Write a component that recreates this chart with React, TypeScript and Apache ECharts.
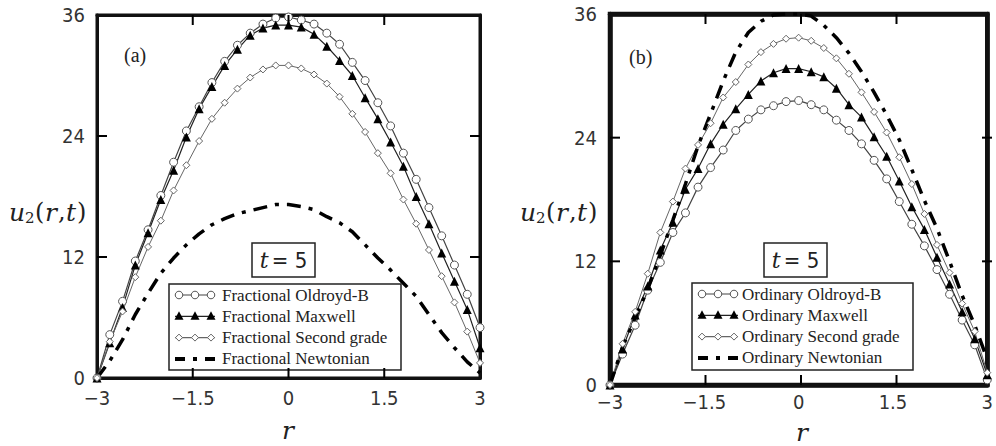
import React, { useEffect, useRef } from "react";
import * as echarts from "echarts";

// radial coordinate r
const rValues = [-3, -2.8, -2.6, -2.4, -2.2, -2.0, -1.8, -1.6, -1.4, -1.2, -1.0, -0.8, -0.6, -0.4, -0.2, 0, 0.2, 0.4, 0.6, 0.8, 1.0, 1.2, 1.4, 1.6, 1.8, 2.0, 2.2, 2.4, 2.6, 2.8, 3.0];

// Panel (a) — fractional models
const fracOldroyd = [0, 4.3, 7.6, 11.6, 14.7, 18.1, 21.4, 24.5, 26.9, 29.3, 31.4, 33.0, 34.2, 35.1, 35.7, 35.8, 35.5, 35.1, 34.2, 33.1, 31.3, 29.5, 27.3, 25.0, 22.3, 19.7, 16.9, 14.1, 11.2, 8.3, 5.0];
const fracMaxwell = [0, 3.5, 7.0, 11.2, 14.4, 17.7, 20.6, 23.9, 26.7, 28.9, 31.0, 32.6, 34.0, 34.7, 35.0, 35.0, 34.8, 34.1, 32.9, 31.5, 30.0, 27.8, 25.7, 23.4, 21.0, 18.0, 15.3, 12.4, 9.6, 6.8, 3.0];
const fracSecond = [0, 3.6, 6.6, 10.0, 13.0, 15.6, 18.6, 21.1, 23.5, 25.7, 27.3, 28.7, 29.8, 30.6, 31.0, 31.0, 30.7, 30.1, 29.2, 27.9, 26.2, 24.4, 22.3, 20.3, 17.7, 15.3, 12.7, 10.1, 7.5, 4.6, 1.5];
const fracNewtonian = [0, 1.7, 3.8, 6.3, 8.4, 10.4, 11.9, 13.2, 14.3, 15.2, 15.8, 16.3, 16.6, 16.9, 17.2, 17.2, 17.0, 16.7, 16.0, 15.4, 14.5, 13.2, 11.9, 10.7, 9.4, 8.1, 6.3, 4.5, 3.0, 1.6, 0.5];

// Panel (b) — ordinary models
const ordOldroyd = [0, 3.0, 5.8, 9.2, 11.9, 14.8, 16.7, 19.2, 21.1, 22.8, 24.7, 25.8, 26.7, 27.1, 27.5, 27.6, 27.2, 26.7, 25.7, 24.7, 23.4, 21.8, 20.0, 17.8, 15.6, 13.5, 11.2, 8.8, 6.3, 3.9, 0.5];
const ordMaxwell = [0, 3.5, 6.8, 9.6, 13.1, 15.8, 19.0, 21.0, 23.4, 25.3, 26.8, 28.2, 29.5, 30.3, 30.7, 30.7, 30.4, 29.9, 28.8, 27.2, 26.0, 24.1, 22.2, 19.8, 17.3, 15.1, 12.4, 9.8, 7.1, 4.5, 1.0];
const ordSecond = [0, 4.0, 7.1, 10.8, 14.8, 17.8, 21.0, 23.3, 25.4, 27.9, 29.4, 31.1, 32.3, 33.1, 33.6, 33.7, 33.4, 32.7, 31.7, 30.2, 28.4, 26.5, 24.5, 22.1, 19.5, 16.6, 13.6, 10.9, 7.9, 5.2, 1.2];
const ordNewtonian = [0, 3.7, 6.5, 9.3, 12.6, 16.0, 19.5, 23.2, 26.3, 29.5, 32.3, 34.2, 35.3, 35.9, 36.0, 36.0, 35.8, 34.9, 33.7, 32.2, 30.4, 28.4, 26.2, 23.8, 20.9, 17.9, 15.2, 12.0, 8.7, 5.8, 2.5];

const fracLabels = ["Fractional Oldroyd-B", "Fractional Maxwell", "Fractional Second grade", "Fractional Newtonian"];
const ordLabels = ["Ordinary Oldroyd-B", "Ordinary Maxwell", "Ordinary Second grade", "Ordinary Newtonian"];

// axis ranges and interior tick positions
const X_MIN = -3;
const X_MAX = 3;
const Y_MIN = 0;
const Y_MAX = 36;
const xTicks = [-1.5, 0, 1.5];
const yTicks = [12, 24];

const GRIDS = [
  { left: 97, top: 15, width: 383, height: 363, border: 3 },
  { left: 610, top: 14, width: 382, height: 371, border: 4.5 },
];

const SERIF = '"Liberation Serif", "DejaVu Serif", serif';
const MATH = '"DejaVu Serif", "Liberation Serif", serif';
const NUM = '"DejaVu Sans Condensed", "DejaVu Sans", sans-serif';
const NEWT_DASH = [14, 8, 4, 8];

const styles = [
  { symbol: "circle", symbolSize: 8, itemStyle: { color: "#fff", borderColor: "#555", borderWidth: 1 }, lineStyle: { color: "#444", width: 1.2 } },
  { symbol: "triangle", symbolSize: 9, itemStyle: { color: "#000", borderColor: "#000", borderWidth: 0 }, lineStyle: { color: "#222", width: 1.2 } },
  { symbol: "diamond", symbolSize: 7, itemStyle: { color: "#fff", borderColor: "#666", borderWidth: 1 }, lineStyle: { color: "#666", width: 1 } },
  { symbol: "none", symbolSize: 0, itemStyle: { color: "#000" }, lineStyle: { color: "#000", width: 3.5, type: NEWT_DASH } },
];

function makeSeries(arrs: number[][], names: string[], gi: number) {
  return arrs.map((arr, k) => ({
    name: names[k],
    type: "line",
    xAxisIndex: gi * 2,
    yAxisIndex: gi * 2,
    data: rValues.map((x, i) => [x, arr[i]]),
    symbol: styles[k].symbol,
    symbolSize: styles[k].symbolSize,
    showSymbol: k !== 3,
    itemStyle: styles[k].itemStyle,
    lineStyle: styles[k].lineStyle,
    clip: true,
    z: 3,
  }));
}

function legendGraphic(x: number, y: number, w: number, h: number, textDx: number, labels: string[]) {
  const els: any[] = [];
  els.push({ type: "rect", shape: { x, y, width: w, height: h }, style: { fill: "#fff", stroke: "#222", lineWidth: 1.5 }, z: 10 });
  const x0 = x + 6;
  for (let i = 0; i < 4; i++) {
    const cy = y + 11 + i * 21.3;
    if (i < 3) {
      els.push({ type: "line", shape: { x1: x0, y1: cy, x2: x0 + 40, y2: cy }, style: { stroke: styles[i].lineStyle.color, lineWidth: 1.2 }, z: 11 });
      [4, 20, 36].forEach((dx) => {
        const cx = x0 + dx;
        if (i === 0) {
          els.push({ type: "circle", shape: { cx, cy, r: 3.8 }, style: { fill: "#fff", stroke: "#555", lineWidth: 1 }, z: 12 });
        } else if (i === 1) {
          els.push({ type: "polygon", shape: { points: [[cx, cy - 5], [cx - 4.5, cy + 3.5], [cx + 4.5, cy + 3.5]] }, style: { fill: "#000" }, z: 12 });
        } else {
          els.push({ type: "polygon", shape: { points: [[cx, cy - 3.5], [cx + 3.5, cy], [cx, cy + 3.5], [cx - 3.5, cy]] }, style: { fill: "#fff", stroke: "#666", lineWidth: 1 }, z: 12 });
        }
      });
    } else {
      els.push({ type: "line", shape: { x1: x0, y1: cy, x2: x0 + 42, y2: cy }, style: { stroke: "#000", lineWidth: 4, lineDash: [10, 8, 4, 8] }, z: 11 });
    }
    els.push({
      type: "text",
      x: x + textDx,
      y: cy,
      style: { text: labels[i], font: `17px ${SERIF}`, fill: "#222", textVerticalAlign: "middle", verticalAlign: "middle" },
      z: 12,
    });
  }
  return els;
}

function tBox(x: number, y: number) {
  return [
    { type: "rect", shape: { x, y, width: 63, height: 34 }, style: { fill: "#fff", stroke: "#222", lineWidth: 1.5 }, z: 10 },
    {
      type: "text",
      x: x + 31.5,
      y: y + 17,
      style: {
        text: "{i|t} {n|= 5}",
        rich: { i: { font: `italic 22px ${MATH}`, fill: "#222" }, n: { font: `22px ${NUM}`, fill: "#222" } },
        textAlign: "center",
        align: "center",
        textVerticalAlign: "middle",
        verticalAlign: "middle",
      },
      z: 12,
    },
  ];
}

function yTitle(x: number, y: number) {
  const base = { fill: "#222", textVerticalAlign: "middle", verticalAlign: "middle" };
  return [
    { type: "text", x, y, style: { ...base, text: "u", font: `italic 25px ${MATH}` }, z: 12 },
    { type: "text", x: x + 16, y: y + 6, style: { ...base, text: "2", font: `15px ${MATH}` }, z: 12 },
    { type: "text", x: x + 26, y, style: { ...base, text: "(", font: `24px ${MATH}` }, z: 12 },
    { type: "text", x: x + 36, y, style: { ...base, text: "r", font: `italic 25px ${MATH}` }, z: 12 },
    { type: "text", x: x + 49, y, style: { ...base, text: ",", font: `24px ${MATH}` }, z: 12 },
    { type: "text", x: x + 57, y, style: { ...base, text: "t", font: `italic 25px ${MATH}` }, z: 12 },
    { type: "text", x: x + 68, y, style: { ...base, text: ")", font: `24px ${MATH}` }, z: 12 },
  ];
}

function rTitle(x: number, y: number) {
  return {
    type: "text",
    x,
    y,
    style: { text: "r", font: `italic 25px ${MATH}`, fill: "#222", textAlign: "center", align: "center", textVerticalAlign: "middle", verticalAlign: "middle" },
    z: 12,
  };
}

// inward tick marks on all four sides of each frame
function frameTicks() {
  const els: any[] = [];
  const L = 10;
  const st = { stroke: "#000", lineWidth: 2 };
  GRIDS.forEach((g) => {
    const bottom = g.top + g.height;
    const right = g.left + g.width;
    xTicks.forEach((xv) => {
      const px = g.left + ((xv - X_MIN) / (X_MAX - X_MIN)) * g.width;
      els.push({ type: "line", shape: { x1: px, y1: bottom, x2: px, y2: bottom - L }, style: st, z: 13 });
      els.push({ type: "line", shape: { x1: px, y1: g.top, x2: px, y2: g.top + L }, style: st, z: 13 });
    });
    yTicks.forEach((yv) => {
      const py = g.top + (1 - (yv - Y_MIN) / (Y_MAX - Y_MIN)) * g.height;
      els.push({ type: "line", shape: { x1: g.left, y1: py, x2: g.left + L, y2: py }, style: st, z: 13 });
      els.push({ type: "line", shape: { x1: right, y1: py, x2: right - L, y2: py }, style: st, z: 13 });
    });
  });
  return els;
}

function axesFor(gi: number) {
  const bw = GRIDS[gi].border;
  const tick = { show: false };
  const line = { show: true, onZero: false, lineStyle: { color: "#111", width: bw } };
  const xl = {
    show: true,
    fontSize: 20,
    fontFamily: NUM,
    color: "#333",
    margin: gi === 0 ? 10 : 7,
    formatter: (v: number) => (v < 0 ? "\u2212" + String(-v) : String(v)),
  };
  const yl = { show: true, fontSize: 20, fontFamily: NUM, color: "#333", margin: gi === 0 ? 12 : 13 };
  const xs = [
    { gridIndex: gi, type: "value", min: X_MIN, max: X_MAX, interval: 1.5, position: "bottom", axisLine: line, axisTick: tick, axisLabel: xl, splitLine: { show: false } },
    { gridIndex: gi, type: "value", min: X_MIN, max: X_MAX, interval: 1.5, position: "top", axisLine: line, axisTick: tick, axisLabel: { show: false }, splitLine: { show: false } },
  ];
  const ys = [
    { gridIndex: gi, type: "value", min: Y_MIN, max: Y_MAX, interval: 12, position: "left", axisLine: line, axisTick: tick, axisLabel: yl, splitLine: { show: false } },
    { gridIndex: gi, type: "value", min: Y_MIN, max: Y_MAX, interval: 12, position: "right", axisLine: line, axisTick: tick, axisLabel: { show: false }, splitLine: { show: false } },
  ];
  return { xs, ys };
}

export default function App() {
  const ref = useRef<HTMLDivElement>(null);
  useEffect(() => {
    if (!ref.current) return;
    const chart = echarts.init(ref.current, null, { renderer: "svg" });
    const a0 = axesFor(0);
    const a1 = axesFor(1);
    chart.setOption({
      animation: false,
      backgroundColor: "#fff",
      grid: GRIDS.map((g) => ({
        left: g.left,
        top: g.top,
        width: g.width,
        height: g.height,
        show: true,
        borderColor: "#111",
        borderWidth: g.border,
        backgroundColor: "transparent",
        containLabel: false,
      })),
      xAxis: [...a0.xs, ...a1.xs],
      yAxis: [...a0.ys, ...a1.ys],
      series: [
        ...makeSeries([fracOldroyd, fracMaxwell, fracSecond, fracNewtonian], fracLabels, 0),
        ...makeSeries([ordOldroyd, ordMaxwell, ordSecond, ordNewtonian], ordLabels, 1),
      ],
      graphic: [
        ...frameTicks(),
        ...legendGraphic(169, 284, 232, 86, 53, fracLabels),
        ...legendGraphic(692, 283, 221, 87, 50, ordLabels),
        ...tBox(252, 243),
        ...tBox(764, 243),
        ...yTitle(9, 212),
        ...yTitle(520, 212),
        rTitle(288, 430),
        rTitle(802, 432),
        { type: "text", x: 124, y: 55, style: { text: "(a)", font: `20px ${SERIF}`, fill: "#222", textVerticalAlign: "middle", verticalAlign: "middle" }, z: 12 },
        { type: "text", x: 629, y: 57, style: { text: "(b)", font: `20px ${SERIF}`, fill: "#222", textVerticalAlign: "middle", verticalAlign: "middle" }, z: 12 },
      ],
    });
    return () => chart.dispose();
  }, []);
  return <div ref={ref} style={{ position: "fixed", left: 0, top: 0, width: 996, height: 446, background: "#fff" }} />;
}
